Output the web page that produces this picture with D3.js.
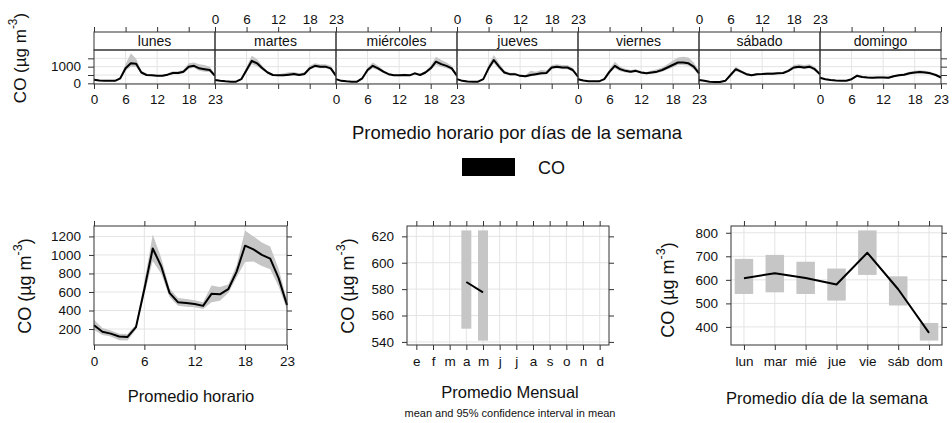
<!DOCTYPE html>
<html>
<head>
<meta charset="utf-8">
<script src="https://cdn.jsdelivr.net/npm/d3@7"></script>
<style>
body { margin: 0; background: #fff; }
svg text { font-family: "Liberation Sans", Arial, sans-serif; fill: #111; }
</style>
</head>
<body>
<svg id="chart" width="952" height="423"></svg>
<script>
// ---- data ----
var hours = [0,1,2,3,4,5,6,7,8,9,10,11,12,13,14,15,16,17,18,19,20,21,22,23];
var dayNames = ["lunes","martes","miércoles","jueves","viernes","sábado","domingo"];
var dayAbbr = ["lun","mar","mié","jue","vie","sáb","dom"];
var monthLabels = ["e","f","m","a","m","j","j","a","s","o","n","d"];

// hourly mean per weekday, and distance to upper / lower confidence limit
var lunesCO = [220,170,150,150,150,300,900,1200,1180,650,500,480,450,450,520,620,620,700,1000,1050,900,850,800,450];
var lunesUp = [60,40,30,30,30,60,250,600,300,120,60,50,50,50,80,100,100,120,200,200,250,250,200,100];
var lunesDn = [40,30,25,25,25,50,150,200,200,80,50,40,40,40,60,70,70,90,120,120,150,150,120,70];

var martesCO = [200,150,120,100,100,250,800,1350,1200,900,650,500,480,480,520,560,500,560,900,1050,1000,1000,900,450];
var martesUp = [50,40,30,30,30,60,200,300,250,150,80,60,60,120,150,120,100,100,150,150,150,150,150,100];
var martesDn = [40,30,25,20,20,50,150,200,180,120,60,50,50,60,80,70,60,70,100,100,100,100,100,70];

var miercolesCO = [250,150,120,100,100,300,800,1050,900,700,550,480,480,500,480,600,500,650,900,1300,1150,1050,900,450];
var miercolesUp = [50,40,30,30,30,60,150,200,150,100,60,50,60,80,60,80,60,100,150,300,250,200,150,100];
var miercolesDn = [40,30,25,20,20,50,120,150,120,80,50,40,50,60,50,60,50,80,120,200,150,150,120,70];

var juevesCO = [250,150,110,100,100,250,900,1400,1000,650,550,550,450,420,500,550,600,620,950,1000,950,950,800,400];
var juevesUp = [50,40,30,30,30,60,200,300,200,120,80,80,60,60,250,150,200,150,150,150,150,150,120,80];
var juevesDn = [40,30,25,20,20,50,150,200,150,80,60,60,50,50,80,80,80,80,100,100,100,100,100,60];

var viernesCO = [250,170,130,120,120,250,700,1050,850,750,700,750,650,600,650,700,800,950,1100,1250,1250,1200,1000,600];
var viernesUp = [50,40,30,30,30,60,150,250,150,120,100,100,80,80,120,150,150,200,250,300,350,350,250,150];
var viernesDn = [40,30,25,20,20,50,120,150,120,100,80,80,60,60,80,100,100,120,150,150,150,150,150,100];

var sabadoCO = [200,150,100,80,80,150,500,850,700,550,480,550,560,580,580,600,620,750,950,1000,950,1000,850,550];
var sabadoUp = [50,40,30,30,30,40,100,150,100,80,60,60,60,80,80,80,80,100,150,150,150,150,150,100];
var sabadoDn = [40,30,25,20,20,30,80,120,80,60,50,50,50,60,60,60,60,80,100,100,100,100,100,70];

var domingoCO = [330,250,200,170,150,160,250,450,380,350,330,350,350,330,420,480,520,600,650,680,650,600,500,350];
var domingoUp = [60,50,40,30,30,30,50,100,70,60,60,60,60,60,70,80,80,100,100,100,100,100,80,60];
var domingoDn = [50,40,30,25,25,25,40,70,50,50,50,50,50,50,60,60,60,70,70,70,70,70,60,50];

// overall hourly profile
var hourCO = [240,170,150,120,115,220,630,1070,880,590,490,480,470,450,580,575,630,820,1100,1060,1000,960,750,460];
var hourUp = [60,40,35,30,30,30,80,150,90,50,45,45,40,40,90,80,50,70,165,140,135,130,100,50];
var hourDn = [50,35,30,40,40,25,60,135,80,45,40,40,35,35,90,70,40,60,175,130,120,115,90,50];

// monthly mean (only april and may present)
var monthIndex = [4,5];
var monthCO = [585.4,577.6];
var monthLo = [550,541];
var monthHi = [624.5,624.5];

// day of week mean
var dowCO = [607,628,608,580,715,560,375];
var dowLo = [540,547,540,512,621,491,342];
var dowHi = [689,706,677,648,810,615,417];

// ---- drawing ----
var svg = d3.select("#chart");
var gridCol = "#e4e4e4", bandCol = "#c6c6c6", borderCol = "#333";
var tickFont = "13.5px";

function styleAxis(g) {
  g.select(".domain").remove();
  g.selectAll(".tick line").attr("stroke", borderCol);
  g.selectAll(".tick text").style("font-size", tickFont).attr("fill", "#111");
}

function ylab(x, y, size) {
  var t = svg.append("text")
    .attr("transform", "translate(" + x + "," + y + ") rotate(-90)")
    .attr("text-anchor", "middle")
    .attr("dominant-baseline", "central")
    .style("font-size", size + "px");
  t.append("tspan").text("CO (µg m");
  t.append("tspan").attr("dy", -size * 0.4).style("font-size", (size * 0.7) + "px").text("-3");
  t.append("tspan").attr("dy", size * 0.4).text(")");
}

function pad4(ext) {
  var r = ext[1] - ext[0];
  return [ext[0] - 0.04 * r, ext[1] + 0.04 * r];
}

// ---------- top: hour x weekday ----------
var topLeft = 94, topRight = 941, stripTop = 32, panelTop = 50, panelBottom = 84;
var panelW = (topRight - topLeft) / 7;
var yTop = d3.scaleLinear().domain([-40, 2000]).range([panelBottom, panelTop]);
var dayTable = [
  {co: lunesCO, up: lunesUp, dn: lunesDn},
  {co: martesCO, up: martesUp, dn: martesDn},
  {co: miercolesCO, up: miercolesUp, dn: miercolesDn},
  {co: juevesCO, up: juevesUp, dn: juevesDn},
  {co: viernesCO, up: viernesUp, dn: viernesDn},
  {co: sabadoCO, up: sabadoUp, dn: sabadoDn},
  {co: domingoCO, up: domingoUp, dn: domingoDn}
];

dayNames.forEach(function(name, i) {
  var x0 = topLeft + i * panelW;
  var x = d3.scaleLinear().domain([0, 23]).range([x0, x0 + panelW]);
  var row = dayTable[i];
  var g = svg.append("g");

  g.selectAll(".vg").data([6, 12, 18]).join("line")
    .attr("x1", d => x(d)).attr("x2", d => x(d))
    .attr("y1", panelTop).attr("y2", panelBottom)
    .attr("stroke", gridCol);
  g.selectAll(".hg").data([0, 500, 1000, 1500]).join("line")
    .attr("x1", x0).attr("x2", x0 + panelW)
    .attr("y1", d => yTop(d)).attr("y2", d => yTop(d))
    .attr("stroke", gridCol);

  var band = d3.area()
    .x((d, j) => x(hours[j]))
    .y0((d, j) => yTop(d - row.dn[j]))
    .y1((d, j) => yTop(d + row.up[j]));
  g.append("path").datum(row.co).attr("d", band).attr("fill", bandCol);

  var line = d3.line().x((d, j) => x(hours[j])).y(d => yTop(d));
  g.append("path").datum(row.co).attr("d", line)
    .attr("fill", "none").attr("stroke", "#000").attr("stroke-width", 2)
    .attr("stroke-linejoin", "round");

  g.append("rect").attr("x", x0).attr("y", stripTop).attr("width", panelW).attr("height", panelTop - stripTop)
    .attr("fill", "none").attr("stroke", borderCol);
  g.append("rect").attr("x", x0).attr("y", panelTop).attr("width", panelW).attr("height", panelBottom - panelTop)
    .attr("fill", "none").attr("stroke", borderCol);
  g.append("text").attr("x", x0 + panelW / 2).attr("y", (stripTop + panelTop) / 2)
    .attr("text-anchor", "middle").attr("dominant-baseline", "central")
    .style("font-size", "14px").text(name);

  var bottomAx = g.append("g").attr("transform", "translate(0," + panelBottom + ")")
    .call(d3.axisBottom(x).tickValues([0, 6, 12, 18, 23]).tickSize(5).tickPadding(5)
      .tickFormat(d => i % 2 === 0 ? d : ""));
  styleAxis(bottomAx);
  var topAx = g.append("g").attr("transform", "translate(0," + stripTop + ")")
    .call(d3.axisTop(x).tickValues([0, 6, 12, 18, 23]).tickSize(5).tickPadding(3)
      .tickFormat(d => i % 2 === 1 ? d : ""));
  styleAxis(topAx);
});

var yTopAxL = svg.append("g").attr("transform", "translate(" + topLeft + ",0)")
  .call(d3.axisLeft(yTop).tickValues([0, 500, 1000, 1500]).tickSize(6).tickPadding(7)
    .tickFormat(d => (d === 0 || d === 1000) ? d : ""));
styleAxis(yTopAxL);
var yTopAxR = svg.append("g").attr("transform", "translate(" + topRight + ",0)")
  .call(d3.axisRight(yTop).tickValues([0, 500, 1000, 1500]).tickSize(6).tickFormat(""));
styleAxis(yTopAxR);

ylab(20, 58, 17);
svg.append("text").attr("x", 517).attr("y", 139).attr("text-anchor", "middle")
  .style("font-size", "18.5px").text("Promedio horario por días de la semana");

// legend
svg.append("rect").attr("x", 462).attr("y", 158).attr("width", 53).attr("height", 18).attr("fill", "#000");
svg.append("text").attr("x", 538).attr("y", 173.5).style("font-size", "18px").text("CO");

// ---------- bottom panels ----------
var bTop = 226, bBottom = 345;

function frame(g, xL, xR) {
  g.append("rect").attr("x", xL).attr("y", bTop).attr("width", xR - xL).attr("height", bBottom - bTop)
    .attr("fill", "none").attr("stroke", borderCol);
}

function gridlines(g, x, y, xv, yv, xL, xR) {
  g.selectAll(".vg").data(xv).join("line")
    .attr("x1", d => x(d)).attr("x2", d => x(d)).attr("y1", bTop).attr("y2", bBottom)
    .attr("stroke", gridCol);
  g.selectAll(".hg").data(yv).join("line")
    .attr("x1", xL).attr("x2", xR).attr("y1", d => y(d)).attr("y2", d => y(d))
    .attr("stroke", gridCol);
}

function axes(g, x, y, xv, yv, xfmt, xL, xR) {
  var a;
  a = g.append("g").attr("transform", "translate(0," + bBottom + ")")
    .call(d3.axisBottom(x).tickValues(xv).tickSize(5).tickPadding(6).tickFormat(xfmt));
  styleAxis(a);
  a = g.append("g").attr("transform", "translate(0," + bTop + ")")
    .call(d3.axisTop(x).tickValues(xv).tickSize(5).tickFormat(""));
  styleAxis(a);
  a = g.append("g").attr("transform", "translate(" + xL + ",0)")
    .call(d3.axisLeft(y).tickValues(yv).tickSize(5).tickPadding(8).tickFormat(d3.format("d")));
  styleAxis(a);
  a = g.append("g").attr("transform", "translate(" + xR + ",0)")
    .call(d3.axisRight(y).tickValues(yv).tickSize(5).tickFormat(""));
  styleAxis(a);
}

// hourly
(function() {
  var xL = 94, xR = 287;
  var g = svg.append("g");
  var x = d3.scaleLinear().domain([0, 23]).range([xL, xR]);
  var lo = hourCO.map((d, j) => d - hourDn[j]);
  var hi = hourCO.map((d, j) => d + hourUp[j]);
  var y = d3.scaleLinear().domain(pad4([d3.min(lo), d3.max(hi)])).range([bBottom, bTop]);
  var yv = [200, 400, 600, 800, 1000, 1200];
  gridlines(g, x, y, [6, 12, 18], yv, xL, xR);
  g.append("path").datum(hourCO)
    .attr("d", d3.area().x((d, j) => x(hours[j])).y0((d, j) => y(lo[j])).y1((d, j) => y(hi[j])))
    .attr("fill", bandCol);
  g.append("path").datum(hourCO)
    .attr("d", d3.line().x((d, j) => x(hours[j])).y(d => y(d)))
    .attr("fill", "none").attr("stroke", "#000").attr("stroke-width", 2).attr("stroke-linejoin", "round");
  frame(g, xL, xR);
  axes(g, x, y, [0, 6, 12, 18, 23], yv, d => d, xL, xR);
  ylab(25, 286, 18);
  svg.append("text").attr("x", 191).attr("y", 402).attr("text-anchor", "middle")
    .style("font-size", "16.5px").text("Promedio horario");
})();

// monthly
(function() {
  var xL = 407, xR = 609;
  var g = svg.append("g");
  var months = d3.range(1, 13);
  var x = d3.scaleLinear().domain([0.44, 12.56]).range([xL, xR]);
  var y = d3.scaleLinear().domain(pad4([d3.min(monthLo), d3.max(monthHi)])).range([bBottom, bTop]);
  var yv = [540, 560, 580, 600, 620];
  gridlines(g, x, y, months, yv, xL, xR);
  var bw = x(1.3) - x(1);
  g.selectAll(".ci").data(monthIndex).join("rect")
    .attr("x", d => x(d) - bw).attr("width", bw * 2)
    .attr("y", (d, j) => y(monthHi[j])).attr("height", (d, j) => y(monthLo[j]) - y(monthHi[j]))
    .attr("fill", bandCol);
  g.append("path").datum(monthCO)
    .attr("d", d3.line().x((d, j) => x(monthIndex[j])).y(d => y(d)))
    .attr("fill", "none").attr("stroke", "#000").attr("stroke-width", 2);
  frame(g, xL, xR);
  axes(g, x, y, months, yv, d => monthLabels[d - 1], xL, xR);
  ylab(348, 286, 18);
  svg.append("text").attr("x", 510).attr("y", 398).attr("text-anchor", "middle")
    .style("font-size", "16.5px").text("Promedio Mensual");
  svg.append("text").attr("x", 510).attr("y", 417).attr("text-anchor", "middle")
    .style("font-size", "11px").text("mean and 95% confidence interval in mean");
})();

// day of week
(function() {
  var xL = 731, xR = 942;
  var g = svg.append("g");
  var idx = d3.range(1, 8);
  var x = d3.scaleLinear().domain([0.58, 7.42]).range([xL, xR]);
  var y = d3.scaleLinear().domain(pad4([d3.min(dowLo), d3.max(dowHi)])).range([bBottom, bTop]);
  var yv = [400, 500, 600, 700, 800];
  gridlines(g, x, y, idx, yv, xL, xR);
  var bw = x(1.3) - x(1);
  g.selectAll(".ci").data(idx).join("rect")
    .attr("x", d => x(d) - bw).attr("width", bw * 2)
    .attr("y", (d, j) => y(dowHi[j])).attr("height", (d, j) => y(dowLo[j]) - y(dowHi[j]))
    .attr("fill", bandCol);
  g.append("path").datum(dowCO)
    .attr("d", d3.line().x((d, j) => x(idx[j])).y(d => y(d)))
    .attr("fill", "none").attr("stroke", "#000").attr("stroke-width", 2).attr("stroke-linejoin", "round");
  frame(g, xL, xR);
  axes(g, x, y, idx, yv, d => dayAbbr[d - 1], xL, xR);
  ylab(668, 290, 18);
  svg.append("text").attr("x", 827).attr("y", 404).attr("text-anchor", "middle")
    .style("font-size", "16.5px").text("Promedio día de la semana");
})();
</script>
</body>
</html>
